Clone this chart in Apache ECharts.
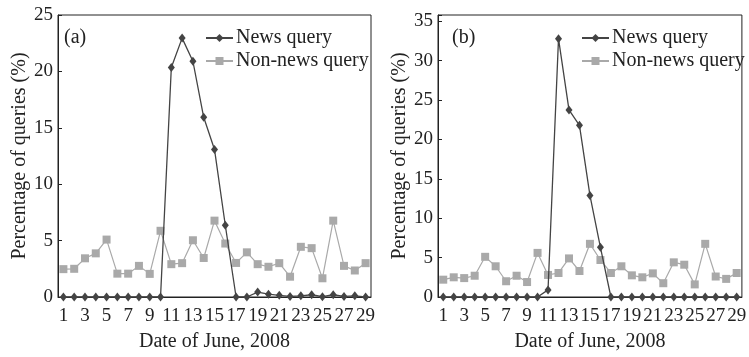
<!DOCTYPE html>
<html>
<head>
<meta charset="utf-8">
<script src="https://cdn.jsdelivr.net/npm/echarts@6/dist/echarts.min.js"></script>
<style>
html,body{margin:0;padding:0;background:#fff;}
#c{width:749px;height:357px;}
</style>
</head>
<body>
<div id="c"></div>
<script>
const days = ['1','2','3','4','5','6','7','8','9','10','11','12','13','14','15','16','17','18','19','20','21','22','23','24','25','26','27','28','29'];
const newsA = [0,0,0,0,0,0,0,0,0,0,20.35,22.95,20.9,15.93,13.08,6.36,0,0,0.44,0.25,0.15,0.05,0.1,0.2,0.03,0.2,0.05,0.1,0];
const nonNewsA = [2.47,2.5,3.43,3.87,5.09,2.07,2.07,2.76,2.05,5.87,2.91,3.0,5.03,3.46,6.77,4.74,3.02,3.96,2.91,2.68,3.0,1.8,4.45,4.33,1.66,6.77,2.76,2.35,3.0];
const newsB = [0,0,0,0,0,0,0,0,0,0,0.9,32.8,23.75,21.8,12.9,6.3,0,0,0,0,0,0,0,0,0,0,0,0,0];
const nonNewsB = [2.2,2.5,2.4,2.7,5.1,3.9,2.0,2.7,1.9,5.6,2.8,3.05,4.9,3.3,6.75,4.7,3.05,3.9,2.75,2.5,3.0,1.75,4.4,4.1,1.6,6.75,2.6,2.3,3.05];
const yTicksA = {min:0, max:25, interval:5};
const yTicksB = {min:0, max:35.8, interval:5};
const panelLabels = ['(a)','(b)'];
const seriesNames = ['News query','Non-news query'];
const xTitle = 'Date of June, 2008';
const yTitle = 'Percentage of queries (%)';

const FONT = 'Liberation Serif';
const INK = '#222';
const NEWS_C = '#444';
const NON_C = '#a9a9a9';

const chart = echarts.init(document.getElementById('c'));

function xAxis(gi){
  return {
    type:'category', data:days, gridIndex:gi, boundaryGap:true,
    name:xTitle, nameLocation:'middle', nameGap:35,
    nameTextStyle:{fontFamily:FONT, fontSize:20, color:INK},
    axisLine:{lineStyle:{color:INK, width:1}},
    axisTick:{inside:true, length:4, alignWithLabel:true, interval:0, lineStyle:{color:INK}},
    axisLabel:{interval:1, margin:10, fontFamily:FONT, fontSize:19, color:INK},
    splitLine:{show:false}
  };
}
function yAxis(gi, t){
  return {
    type:'value', gridIndex:gi, min:t.min, max:t.max, interval:t.interval,
    name:yTitle, nameLocation:'middle', nameGap:27,
    nameTextStyle:{fontFamily:FONT, fontSize:20, color:INK},
    axisLine:{show:true, lineStyle:{color:INK, width:1}},
    axisTick:{show:true, inside:true, length:4, lineStyle:{color:INK}},
    axisLabel:{margin:5, fontFamily:FONT, fontSize:19, color:INK,
      formatter:v => (Math.abs(v % 5) < 1e-9 ? String(v) : '')},
    splitLine:{show:false}
  };
}
function newsSeries(gi, data){
  return {
    name:seriesNames[0], type:'line', xAxisIndex:gi, yAxisIndex:gi, data:data,
    symbol:'diamond', symbolSize:[7,9], z:4, showAllSymbol:true,
    lineStyle:{color:NEWS_C, width:1.3}, itemStyle:{color:NEWS_C},
    animation:false
  };
}
function nonSeries(gi, data){
  return {
    name:seriesNames[1], type:'line', xAxisIndex:gi, yAxisIndex:gi, data:data,
    symbol:'rect', symbolSize:8, z:3, showAllSymbol:true,
    lineStyle:{color:NON_C, width:1.2}, itemStyle:{color:NON_C},
    animation:false
  };
}
function legend(left){
  return {
    data: seriesNames.map(n=>({name:n})),
    orient:'vertical', left:left, top:28, padding:0, itemGap:3,
    itemWidth:27, itemHeight:10,
    textStyle:{fontFamily:FONT, fontSize:20, color:INK, padding:[0,0,0,-2]},
    selectedMode:false
  };
}

chart.setOption({
  backgroundColor:'#fff',
  animation:false,
  grid:[
    {left:58, top:15, width:313, bottom:55.3, show:true, borderColor:INK, borderWidth:1, backgroundColor:'transparent'},
    {left:438, top:15, width:313, bottom:55.3, show:true, borderColor:INK, borderWidth:1, backgroundColor:'transparent'}
  ],
  xAxis:[xAxis(0), xAxis(1)],
  yAxis:[yAxis(0, yTicksA), yAxis(1, yTicksB)],
  legend:[legend(205), legend(581)],
  series:[newsSeries(0,newsA), nonSeries(0,nonNewsA), newsSeries(1,newsB), nonSeries(1,nonNewsB)],
  graphic:[
    {type:'text', left:64, top:28, style:{text:panelLabels[0], font:'20px "Liberation Serif"', fill:INK}},
    {type:'text', left:452, top:28, style:{text:panelLabels[1], font:'20px "Liberation Serif"', fill:INK}}
  ]
});
</script>
</body>
</html>
